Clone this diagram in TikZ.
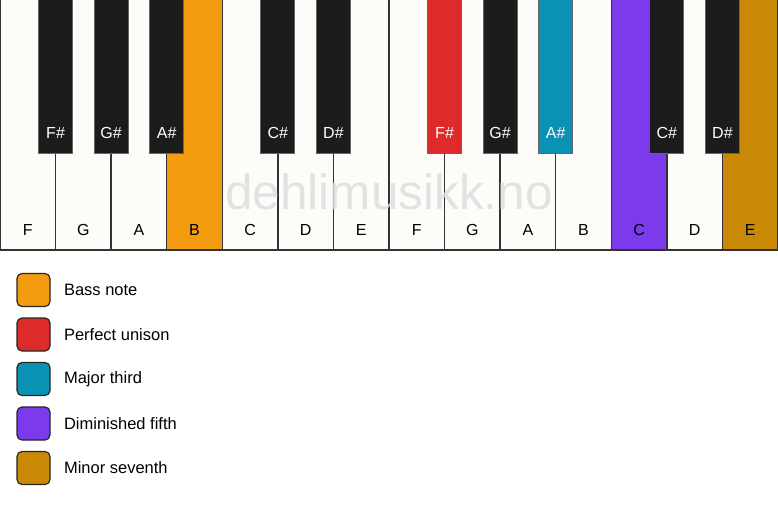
\documentclass[tikz,border=0pt]{standalone}
\usepackage{fontspec}
\setmainfont{Liberation Sans}
\definecolor{keywhite}{HTML}{FDFCF9}
\definecolor{keyblack}{HTML}{1C1C1C}
\definecolor{bassnote}{HTML}{F39C0F}
\definecolor{unison}{HTML}{DD2A2A}
\definecolor{third}{HTML}{0A92B5}
\definecolor{fifth}{HTML}{7B3AEC}
\definecolor{seventh}{HTML}{C98905}
\begin{document}
\begin{tikzpicture}[x=1pt, y=-1pt,
    whitekey/.style={draw=black!80, line width=1.3pt},
    blackkey/.style={draw=black!60, line width=0.8pt},
    keylabel/.style={font=\fontsize{16}{19}\selectfont},
    legendbox/.style={draw=black!85, line width=1.2pt, rounded corners=5pt},
    legendtext/.style={anchor=west, font=\fontsize{16.5}{20}\selectfont}]
    \useasboundingbox[fill=white] (0, 0) rectangle (778, 506);
    \def\w{55.571}
    \foreach \n/\c [count=\i from 0] in {F/keywhite, G/keywhite, A/keywhite, B/bassnote, C/keywhite, D/keywhite, E/keywhite, F/keywhite, G/keywhite, A/keywhite, B/keywhite, C/fifth, D/keywhite, E/seventh} {
      \draw[whitekey, fill=\c] (\i*\w, -1) rectangle ({(\i+1)*\w}, 250);
      \node[keylabel] (white\i) at ({(\i+0.5)*\w}, 230) {\n};
    }
    \foreach \b/\n/\c in {1/F\#/keyblack, 2/G\#/keyblack, 3/A\#/keyblack, 5/C\#/keyblack, 6/D\#/keyblack, 8/F\#/unison, 9/G\#/keyblack, 10/A\#/third, 12/C\#/keyblack, 13/D\#/keyblack} {
      \draw[blackkey, fill=\c] (\b*\w-17, -1) rectangle (\b*\w+17, 153);
      \node[keylabel, text=white] (black\b) at (\b*\w, 133) {\n};
    }
    \node[text=black!13, opacity=0.85, font=\fontsize{49.5}{59}\selectfont] (mark) at (389, 192) {dehlimusikk.no};
    \foreach \c/\t [count=\i from 0] in {bassnote/Bass note, unison/Perfect unison, third/Major third, fifth/Diminished fifth, seventh/Minor seventh} {
      \draw[legendbox, fill=\c] (17, 273.5+\i*44.5) rectangle (50, 306.5+\i*44.5);
      \node[legendtext] (legend\i) at (60.5, 290+\i*44.5) {\t};
    }
\end{tikzpicture}
\end{document}
